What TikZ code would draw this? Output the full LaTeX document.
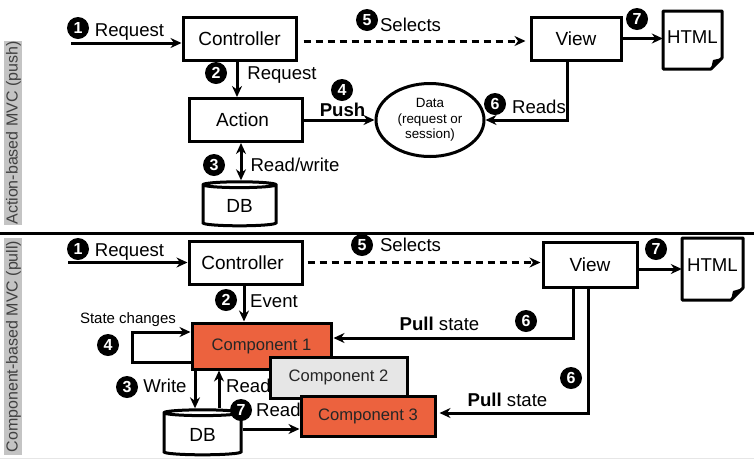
\documentclass[tikz,border=0pt]{standalone}
\usepackage{fontspec}
\setmainfont{Liberation Sans}
\usetikzlibrary{arrows.meta}
\usetikzlibrary{positioning}
\usetikzlibrary{shapes.geometric}

\definecolor{compred}{HTML}{EC623E}
\definecolor{compgray}{HTML}{E6E6E6}
\definecolor{sidegray}{HTML}{C4C4C4}

\tikzset{
  box/.style={draw,line width=3pt,fill=white,inner sep=0pt,font=\fontsize{19}{21}\selectfont},
  comp/.style={draw,line width=3pt,fill=compred,inner sep=0pt,text=black!85,font=\fontsize{16.6}{18}\selectfont},
  lbl/.style={inner sep=0pt,font=\fontsize{18.6}{21}\selectfont},
  badge/.style={circle,fill=black,text=white,inner sep=0pt,minimum size=22pt,font=\fontsize{16}{16}\selectfont\bfseries},
  link/.style={line width=3pt,-{Stealth[length=11pt,width=10pt]}},
  side/.style={rotate=90,fill=sidegray,inner sep=0pt,text=black!75,text depth=0.22em,minimum height=18pt,font=\fontsize{16}{18}\selectfont},
  dbase/.style={cylinder,shape border rotate=90,aspect=0.22,draw,line width=3pt,fill=white,inner sep=0pt,font=\fontsize{19}{21}\selectfont},
  sheet/.style={line width=3pt,line join=round,fill=white},
}

\begin{document}
\begin{tikzpicture}[x=1pt,y=-1pt]
\useasboundingbox (0,0) rectangle (754,459);
\fill[white] (0,0) rectangle (754,459);

% side labels and divider
\node[side,minimum width=184pt] (sideA) at (13,133) {Action-based MVC (push)};
\node[side,minimum width=217pt] (sideB) at (13,346.5) {Component-based MVC (pull)};
\draw[line width=3pt] (0,233) -- (754,233);
\draw[compgray,line width=1pt] (0,458) -- (754,458);

% action-based: boxes
\node[box,minimum width=113pt,minimum height=43pt] (ctrlA) at (239.5,38.5) {Controller};
\node[box,minimum width=113pt,minimum height=43pt] (actionA) at (245.5,120) {Action\hspace*{6pt}};
\node[box,minimum width=90pt,minimum height=43pt] (viewA) at (576,38.5) {View};
\node[dbase,minimum width=73pt,minimum height=44pt] (dbA) at (239.5,206) {DB};
\node[ellipse,draw,line width=3pt,fill=white,minimum width=108pt,minimum height=73pt,inner sep=0pt,align=center,font=\fontsize{13.4}{15.5}\selectfont] (dataA) at (430,120) {Data\\(request or\\session)};
\draw[sheet] (663,11) -- (722,11) -- (722,58) -- (711,69) -- (663,69) -- cycle;
\fill (722,58) -- (711,69) -- (713,60) -- cycle;
\node[lbl,minimum width=59pt,minimum height=58pt] (htmlA) at (692.5,37) {HTML};

% action-based: connectors
\coordinate (inA) at (71,43);
\coordinate (selA) at (0,41);
\coordinate (reqA) at (237,0);
\coordinate (rwA) at (241,0);
\coordinate (readsA) at (567,0);
\draw[link] (inA) -- (inA -| ctrlA.west);
\draw[link,dashed,dash pattern=on 7pt off 5pt,shorten <=6pt,shorten >=4pt] (selA -| ctrlA.east) -- (selA -| viewA.west);
\draw[link] (reqA |- ctrlA.south) -- (reqA |- actionA.north);
\draw[link,{Stealth[length=11pt,width=10pt]}-{Stealth[length=11pt,width=10pt]}] (rwA |- actionA.south) -- (rwA |- dbA.north);
\draw[link] (actionA.east) -- (dataA.west);
\draw[link] (readsA |- viewA.south) |- (dataA.east);
\draw[link] (viewA.east) -- (viewA.east -| htmlA.west);

% action-based: labels
\node[lbl] (txtReqA) at (129.5,32) {Request};
\node[lbl] (txtSelA) at (410.5,25) {Selects};
\node[lbl] (txtReqB) at (282,75) {Request};
\node[lbl] (txtRw) at (295,165) {Read/write};
\node[lbl] (txtPush) at (342.5,110) {\bfseries Push};
\node[lbl] (txtReads) at (539,107) {Reads};
\node[badge] (oneA) at (78,28) {1};
\node[badge] (twoA) at (216,73) {2};
\node[badge] (threeA) at (214,165) {3};
\node[badge] (fourA) at (342,90) {4};
\node[badge] (fiveA) at (367,20) {5};
\node[badge] (sixA) at (495,104) {6};
\node[badge] (sevenA) at (637,19) {7};

% component-based: labels that the boxes overlap
\node[lbl,anchor=west] (txtReadA) at (226,386) {Read};
\node[lbl,anchor=west] (txtReadB) at (256,410) {Read};

% component-based: boxes
\node[box,minimum width=113pt,minimum height=43pt] (ctrlB) at (245.5,262.5) {Controller\hspace*{6pt}};
\node[box,minimum width=94pt,minimum height=45pt] (viewB) at (590,264.5) {View};
\node[comp,minimum width=139pt,minimum height=46pt] (compA) at (261.5,346) {Component 1};
\node[comp,fill=compgray,minimum width=137pt,minimum height=41pt] (compB) at (338.5,377.5) {Component 2};
\node[comp,minimum width=134pt,minimum height=40pt] (compC) at (368,416) {Component 3};
\node[dbase,minimum width=77pt,minimum height=45pt] (dbB) at (202.5,434.5) {DB};
\draw[sheet] (682,238) -- (743,238) -- (743,288) -- (731,300) -- (682,300) -- cycle;
\fill (743,288) -- (731,300) -- (733,291) -- cycle;
\node[lbl,minimum width=61pt,minimum height=62pt] (htmlB) at (712.5,265) {HTML};

% component-based: connectors
\coordinate (inB) at (68,0);
\coordinate (evB) at (244,0);
\coordinate (loopTop) at (0,332);
\coordinate (loopBot) at (0,362);
\coordinate (loopLeft) at (132,0);
\coordinate (wrB) at (195,0);
\coordinate (rdB) at (219,0);
\coordinate (dbOut) at (0,429);
\coordinate (pullA) at (573,338);
\coordinate (pullB) at (588,413);
\coordinate (outB) at (0,269);
\draw[link] (inB |- ctrlB.west) -- (ctrlB.west);
\draw[link,dashed,dash pattern=on 7pt off 5pt,shorten <=4pt,shorten >=1pt] (ctrlB.east) -- (viewB.west |- ctrlB.east);
\draw[link] (evB |- ctrlB.south) -- (evB |- compA.north);
\draw[link] (loopBot -| compA.west) -| (loopLeft |- loopTop) -- (loopTop -| compA.west);
\draw[link] (wrB |- compA.south) -- (wrB |- dbB.north);
\draw[link] (rdB |- dbB.north) -- (rdB |- compA.south);
\draw[link] (dbOut -| dbB.east) -- (dbOut -| compC.west);
\draw[link,shorten >=1pt] (pullA |- viewB.south) -- (pullA) -- (pullA -| compA.east);
\draw[link,shorten >=3pt] (pullB |- viewB.south) -- (pullB) -- (pullB -| compC.east);
\draw[link] (outB -| viewB.east) -- (outB -| htmlB.west);

% component-based: labels
\node[lbl] (txtReqC) at (129.5,252) {Request};
\node[lbl] (txtSelB) at (410.5,245) {Selects};
\node[lbl] (txtEvent) at (274,301) {Event};
\node[lbl,font=\fontsize{15}{17}\selectfont] (txtState) at (128,320) {State changes};
\node[lbl] (txtWrite) at (165,386) {Write};
\node[lbl] (txtPullA) at (439.5,324) {\bfseries Pull\mdseries{} state};
\node[lbl] (txtPullB) at (507.5,400) {\bfseries Pull\mdseries{} state};
\node[badge] (oneB) at (78,249) {1};
\node[badge] (twoB) at (226,300) {2};
\node[badge] (threeB) at (127,387) {3};
\node[badge] (fourB) at (108,345) {4};
\node[badge] (fiveB) at (362,245) {5};
\node[badge] (sixB) at (526,321) {6};
\node[badge] (sixC) at (571,378) {6};
\node[badge] (sevenB) at (241,410) {7};
\node[badge] (sevenC) at (656,249) {7};

\end{tikzpicture}
\end{document}
